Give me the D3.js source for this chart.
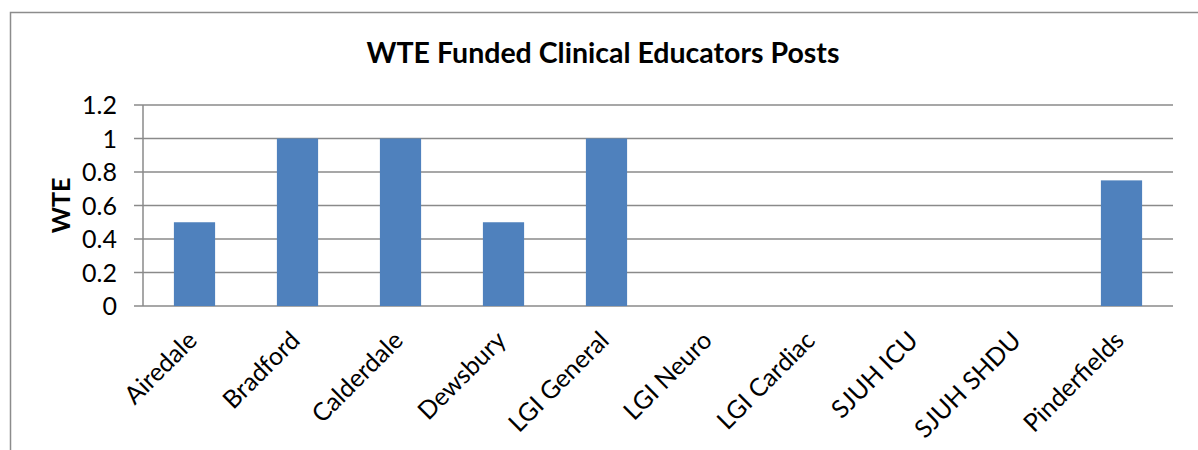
<!DOCTYPE html>
<html>
<head>
<meta charset="utf-8">
<script src="https://cdnjs.cloudflare.com/ajax/libs/d3/7.8.5/d3.min.js"></script>
<style>
    body { margin: 0; background: #ffffff; }
    svg { display: block; }
    text { font-family: Lato, "Open Sans", sans-serif; fill: #000000; }
</style>
</head>
<body>
<svg id="chart"></svg>
<script>
//chart values
var categories = ["Airedale", "Bradford", "Calderdale", "Dewsbury", "LGI General", "LGI Neuro", "LGI Cardiac", "SJUH ICU", "SJUH SHDU", "Pinderfields"];
var wteValues = [0.5, 1, 1, 0.5, 1, 0, 0, 0, 0, 0.75];
var yTicks = [0, 0.2, 0.4, 0.6, 0.8, 1, 1.2];
var yTickLabels = ["0", "0.2", "0.4", "0.6", "0.8", "1", "1.2"];
var chartTitle = "WTE Funded Clinical Educators Posts";
var yAxisTitle = "WTE";

function runScript () {

    //size of the whole picture
    var width = 1198;
    var height = 450;

    //plot area inside the picture
    var plotLeft = 143;
    var plotRight = 1173;
    var plotTop = 105;
    var plotBottom = 306;

    var gridColor = "#8a8a8a";
    var barColor = "#4f81bd";

    var svg = d3.select("#chart")
        .attr("width", width)
        .attr("height", height);

    //outer chart frame, only the top and left edges fall inside the picture
    svg.append("rect")
        .attr("x", 10.5)
        .attr("y", 12.5)
        .attr("width", 1400)
        .attr("height", 800)
        .style("fill", "none")
        .style("stroke", "#8c8c8c")
        .style("stroke-width", 1.5);

    var xScale = d3.scaleBand()
        .domain(categories)
        .range([plotLeft, plotRight])
        .paddingInner(0.6)
        .paddingOuter(0.3);

    var yScale = d3.scaleLinear()
        .domain([0, 1.2])
        .range([plotBottom, plotTop]);

    //horizontal gridlines
    svg.selectAll(".grid")
        .data(yTicks)
        .enter()
        .append("line")
        .attr("class", "grid")
        .attr("x1", plotLeft - 9)
        .attr("x2", plotRight)
        .attr("y1", function (d) { return yScale(d); })
        .attr("y2", function (d) { return yScale(d); })
        .style("stroke", gridColor)
        .style("stroke-width", 1.5);

    //bars
    svg.selectAll(".bars")
        .data(wteValues)
        .enter()
        .append("rect")
        .attr("class", "bars")
        .attr("x", function (d, i) { return xScale(categories[i]); })
        .attr("width", xScale.bandwidth())
        .attr("y", function (d) { return yScale(d); })
        .attr("height", function (d) { return plotBottom - yScale(d); })
        .style("fill", barColor);

    //y axis line
    svg.append("line")
        .attr("x1", plotLeft)
        .attr("x2", plotLeft)
        .attr("y1", plotTop)
        .attr("y2", plotBottom)
        .style("stroke", gridColor)
        .style("stroke-width", 1.5);

    //y tick labels
    svg.selectAll(".ytick")
        .data(yTicks)
        .enter()
        .append("text")
        .attr("class", "ytick")
        .attr("x", plotLeft - 26)
        .attr("y", function (d) { return yScale(d); })
        .attr("dy", "0.36em")
        .attr("text-anchor", "end")
        .style("font-size", "25px")
        .text(function (d, i) { return yTickLabels[i]; });

    //category labels, turned 45 degrees
    svg.selectAll(".xtick")
        .data(categories)
        .enter()
        .append("text")
        .attr("class", "xtick")
        .attr("text-anchor", "end")
        .attr("transform", function (d) {
            var cx = xScale(d) + xScale.bandwidth() / 2 + 4;
            return "translate(" + cx + "," + (plotBottom + 36) + ") rotate(-45)";
        })
        .style("font-size", "25px")
        .text(function (d) { return d; });

    //chart title
    svg.append("text")
        .attr("x", 603)
        .attr("y", 63)
        .attr("text-anchor", "middle")
        .style("font-size", "28.5px")
        .style("font-weight", "bold")
        .text(chartTitle);

    //y axis title
    svg.append("text")
        .attr("transform", "translate(70," + ((plotTop + plotBottom) / 2) + ") rotate(-90)")
        .attr("text-anchor", "middle")
        .style("font-size", "25px")
        .style("font-weight", "bold")
        .text(yAxisTitle);
}

window.onload = runScript;
</script>
</body>
</html>
